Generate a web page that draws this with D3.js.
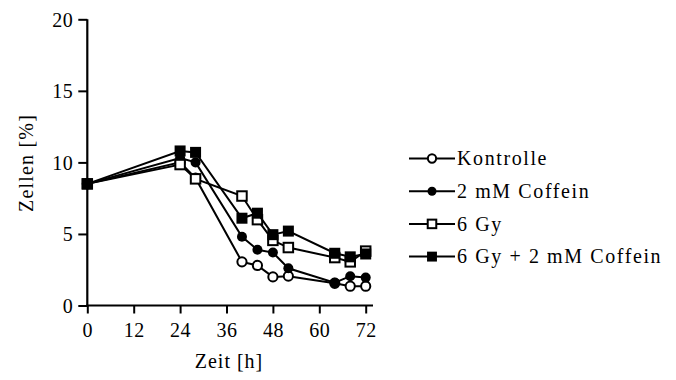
<!DOCTYPE html>
<html>
<head>
<meta charset="utf-8">
<script src="https://cdn.jsdelivr.net/npm/d3@7"></script>
<style>
  body { margin: 0; background: #fff; }
  svg text { font-family: "Liberation Serif", "DejaVu Serif", serif; fill: #000; }
</style>
</head>
<body>
<svg width="676" height="380"></svg>
<script>
// time points [h]
var times = [0, 24, 28, 40, 44, 48, 52, 64, 68, 72];

var seriesNames = ["Kontrolle", "2 mM Coffein", "6 Gy", "6 Gy + 2 mM Coffein"];

var kontrolle = [8.5, 10.0, 8.9, 3.05, 2.8, 2.0, 2.05, 1.55, 1.35, 1.35];
var coffein   = [8.5, 10.3, 10.0, 4.8, 3.9, 3.7, 2.6, 1.6, 2.05, 1.95];
var gy6       = [8.5, 9.85, 8.85, 7.65, 6.0, 4.55, 4.05, 3.35, 3.05, 3.8];
var gy6coff   = [8.5, 10.8, 10.7, 6.1, 6.45, 4.95, 5.2, 3.65, 3.4, 3.6];

var xTicks = [0, 12, 24, 36, 48, 60, 72];
var yTicks = [0, 5, 10, 15, 20];

var allSeries = [kontrolle, coffein, gy6, gy6coff];
// marker shape and fill per series
var shapes = ["circle", "circle", "square", "square"];
var filled = [false, true, false, true];

var svg = d3.select("svg");

var x = d3.scaleLinear().domain([0, 72]).range([87.3, 365.7]);
var y = d3.scaleLinear().domain([0, 20]).range([305.5, 19.3]);

var g = svg.append("g");

// y axis
var yAxis = g.append("g")
    .attr("transform", "translate(" + x(0) + ",0)")
    .call(d3.axisLeft(y).tickValues(yTicks).tickSize(9).tickPadding(5));
yAxis.select(".domain").attr("stroke-width", 2.2).attr("d", "M0," + y(20) + "V" + (y(0) + 1));
yAxis.selectAll(".tick line").attr("stroke-width", 2);
yAxis.selectAll(".tick text").style("font-size", "20px").style("letter-spacing", "0.5px").attr("dy", "0.34em");

// x axis
var xAxis = g.append("g")
    .attr("transform", "translate(0," + y(0) + ")")
    .call(d3.axisBottom(x).tickValues(xTicks).tickSize(8).tickPadding(9));
xAxis.select(".domain").attr("stroke-width", 2.2).attr("d", "M" + (x(0) - 1) + ",0H373");
xAxis.selectAll(".tick line").attr("stroke-width", 2);
xAxis.selectAll(".tick text").style("font-size", "20px").style("letter-spacing", "0.5px");
g.selectAll(".domain, .tick line").attr("stroke", "#000");

// axis titles
svg.append("text")
    .attr("x", 229)
    .attr("y", 368)
    .attr("text-anchor", "middle")
    .style("font-size", "20px")
    .style("letter-spacing", "1px")
    .text("Zeit [h]");

svg.append("text")
    .attr("transform", "translate(33,163) rotate(-90)")
    .attr("text-anchor", "middle")
    .style("font-size", "20px")
    .style("letter-spacing", "1.2px")
    .text("Zellen [%]");

var line = d3.line()
    .x(function(d, i) { return x(times[i]); })
    .y(function(d) { return y(d); });

function drawMarker(sel, k, cx, cy, sc) {
    sc = sc || 1;
    if (shapes[k] == "circle") {
        sel.append("circle")
            .attr("cx", cx).attr("cy", cy)
            .attr("r", (filled[k] ? 5 : 4.6) * sc)
            .attr("fill", filled[k] ? "#000" : "#fff")
            .attr("stroke", "#000")
            .attr("stroke-width", filled[k] ? 0 : 2);
    } else {
        var s = (filled[k] ? 11 : 9.5) * sc;
        sel.append("rect")
            .attr("x", cx - s / 2).attr("y", cy - s / 2)
            .attr("width", s).attr("height", s)
            .attr("fill", filled[k] ? "#000" : "#fff")
            .attr("stroke", "#000")
            .attr("stroke-width", filled[k] ? 0 : 2);
    }
}

allSeries.forEach(function(vals, k) {
    var sg = g.append("g").attr("class", "series");
    sg.append("path")
        .attr("d", line(vals))
        .attr("fill", "none")
        .attr("stroke", "#000")
        .attr("stroke-width", 2);
    vals.forEach(function(v, i) {
        drawMarker(sg, k, x(times[i]), y(v));
    });
});

// legend
var legend = svg.append("g").attr("class", "legend");
seriesNames.forEach(function(name, k) {
    var ly = 158.5 + k * 32.7;
    legend.append("line")
        .attr("x1", 409).attr("x2", 455)
        .attr("y1", ly).attr("y2", ly)
        .attr("stroke", "#000").attr("stroke-width", 2);
    drawMarker(legend, k, 432, ly, 0.9);
    legend.append("text")
        .attr("x", 457)
        .attr("y", ly)
        .attr("dy", "0.34em")
        .style("font-size", "20px")
        .style("letter-spacing", "1.6px")
        .text(name);
});
</script>
</body>
</html>
